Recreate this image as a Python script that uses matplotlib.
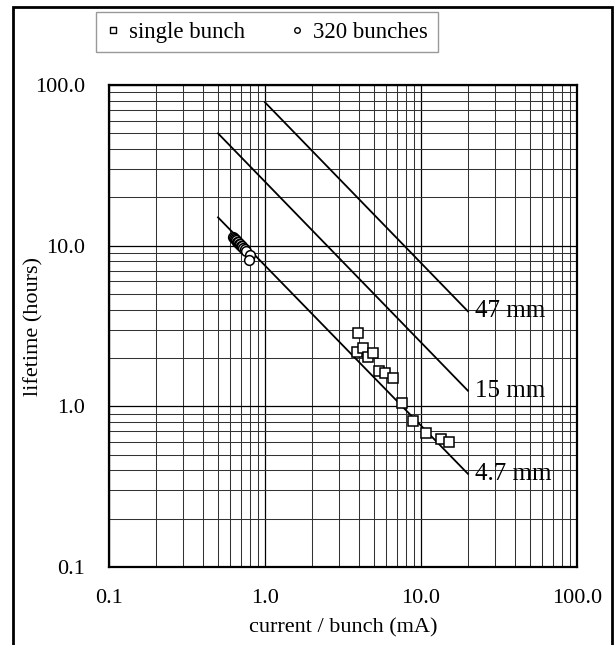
import matplotlib.pyplot as plt
from matplotlib.patches import Rectangle
from matplotlib.ticker import FixedLocator, LogLocator, NullFormatter

plt.rcParams["font.family"] = ["Liberation Serif", "DejaVu Serif"]

# single bunch measurements
single_current = [3.95, 3.89, 4.25, 4.57, 4.92, 5.38, 5.88, 6.62, 7.55, 8.88, 10.8, 13.4, 15.1]
single_lifetime = [2.86, 2.18, 2.31, 2.03, 2.15, 1.66, 1.61, 1.50, 1.05, 0.81, 0.68, 0.63, 0.60]

# 320 bunches measurements
multi_current = [0.62, 0.63, 0.64, 0.65, 0.66, 0.67, 0.68, 0.69, 0.70, 0.71, 0.72, 0.74, 0.76, 0.80, 0.79]
multi_lifetime = [11.4, 11.2, 11.0, 10.8, 10.6, 10.5, 10.3, 10.2, 10.0, 9.9, 9.7, 9.5, 9.2, 8.8, 8.1]

# calculated lifetime lines for different gaps
gap_labels = ["47 mm", "15 mm", "4.7 mm"]
gap_current = [[1.0, 20.0], [0.5, 20.0], [0.5, 20.0]]
gap_lifetime = [[78.0, 3.9], [50.0, 1.25], [15.0, 0.38]]

tick_values = [0.1, 1.0, 10.0, 100.0]
tick_labels = ["0.1", "1.0", "10.0", "100.0"]

fig = plt.figure(figsize=(6.16, 6.45), dpi=100)
ax = fig.add_axes([109 / 616, 78 / 645, 468 / 616, 482 / 645])

ax.set_xscale("log")
ax.set_yscale("log")
ax.set_xlim(0.1, 100)
ax.set_ylim(0.1, 100)

ax.xaxis.set_major_locator(FixedLocator(tick_values))
ax.yaxis.set_major_locator(FixedLocator(tick_values))
ax.xaxis.set_minor_locator(LogLocator(base=10, subs=range(2, 10)))
ax.yaxis.set_minor_locator(LogLocator(base=10, subs=range(2, 10)))
ax.xaxis.set_minor_formatter(NullFormatter())
ax.yaxis.set_minor_formatter(NullFormatter())
ax.set_xticklabels(tick_labels)
ax.set_yticklabels(tick_labels)

ax.grid(True, which="major", color="black", linewidth=0.9)
ax.grid(True, which="minor", color="0.2", linewidth=0.75)
ax.set_axisbelow(True)

ax.tick_params(which="both", length=0)
ax.tick_params(axis="x", labelsize=16, pad=16)
ax.tick_params(axis="y", labelsize=16, pad=17)
for spine in ax.spines.values():
    spine.set_linewidth(1.6)

for xs, ys, label in zip(gap_current, gap_lifetime, gap_labels):
    ax.plot(xs, ys, color="black", linewidth=1.3)
    ax.annotate(label, (xs[-1], ys[-1]), xytext=(5, 0), textcoords="offset points",
                ha="left", va="center", fontsize=18)

ax.plot(single_current, single_lifetime, linestyle="none", marker="s", markersize=6.5,
        markerfacecolor="white", markeredgecolor="black", markeredgewidth=1.1)
ax.plot(multi_current, multi_lifetime, linestyle="none", marker="o", markersize=7,
        markerfacecolor="white", markeredgecolor="black", markeredgewidth=1.1)

ax.set_xlabel("current / bunch (mA)", fontsize=16, labelpad=7)
ax.set_ylabel("lifetime (hours)", fontsize=16, labelpad=-6)

# legend above the plot, outside the axes
h1, = ax.plot([], [], linestyle="none", marker="s", markersize=4,
              markerfacecolor="white", markeredgecolor="black", markeredgewidth=1)
h2, = ax.plot([], [], linestyle="none", marker="o", markersize=4,
              markerfacecolor="white", markeredgecolor="black", markeredgewidth=1)
leg = fig.legend([h1, h2], ["single bunch", "320 bunches"], loc="center",
                 bbox_to_anchor=(267 / 616, 1 - 32 / 645), ncol=2, fontsize=16.5,
                 frameon=True, fancybox=False, edgecolor="0.5", handlelength=0.6,
                 handletextpad=0.4, columnspacing=2.0, borderpad=0.4)
leg.get_frame().set_linewidth(1.0)

# outer border around the whole figure
fig.patches.append(Rectangle((13 / 616, -0.01), 599 / 616, 1.01 - 7 / 645,
                             transform=fig.transFigure, fill=False,
                             edgecolor="black", linewidth=2))

fig.savefig("out.png", dpi=100)
